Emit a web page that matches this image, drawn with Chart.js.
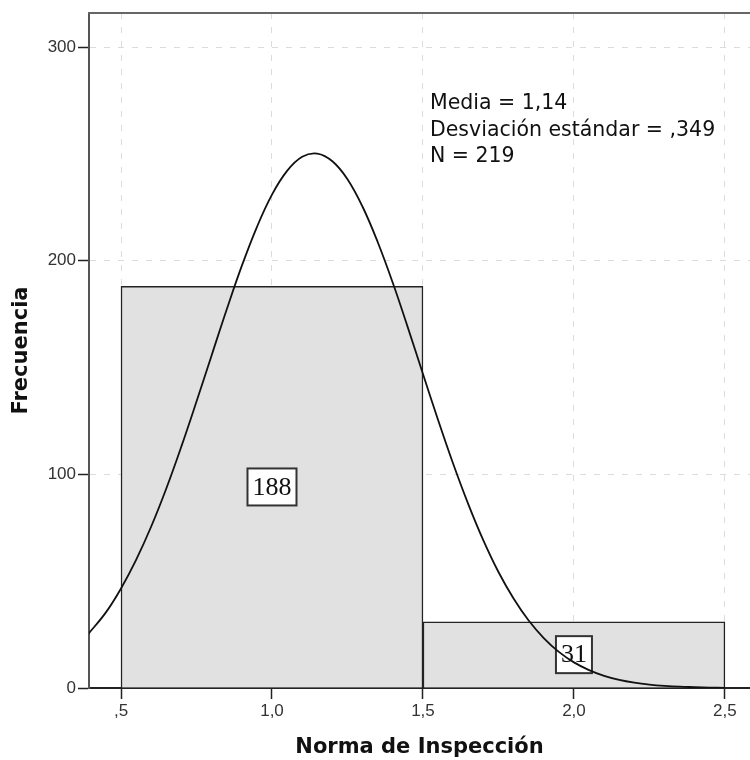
<!DOCTYPE html>
<html>
<head>
<meta charset="utf-8">
<script src="https://cdn.jsdelivr.net/npm/chart.js@4"></script>
<style>
  body { margin: 0; background: #fff; }
  canvas { display: block; background: #fff; }
</style>
</head>
<body>
<canvas id="histChart" width="750" height="760"></canvas>
<script>
// histogram bins (centre of each bin) and counts
const binCenters = [1.0, 2.0];
const binCounts = [188, 31];

// normal curve
const curveX = [0.39, 0.45, 0.5, 0.55, 0.6, 0.65, 0.7, 0.75, 0.8, 0.85, 0.9, 0.95, 1.0, 1.05, 1.1, 1.15, 1.2, 1.25,
  1.3, 1.35, 1.4, 1.45, 1.5, 1.55, 1.6, 1.65, 1.7, 1.75, 1.8, 1.85, 1.9, 1.95, 2.0, 2.05, 2.1, 2.15, 2.2, 2.25,
  2.3, 2.35, 2.4, 2.45, 2.5];
const curveY = [25, 35.4, 46.6, 60, 75.6, 93.4, 113.1, 134.1, 155.7, 177.2, 197.6, 215.8, 231, 242.1, 248.7, 250.2, 246.6, 238.2,
  225.3, 208.8, 189.7, 168.7, 147, 125.5, 105, 86.1, 69.1, 54.3, 41.9, 31.6, 23.4, 16.9, 12, 8.4, 5.7, 3.8, 2.5, 1.6,
  1, 0.6, 0.4, 0.2, 0.1];

const xTickLabels = { 0.5: ',5', 1: '1,0', 1.5: '1,5', 2: '2,0', 2.5: '2,5' };
const statLines = ['Media = 1,14', 'Desviación estándar = ,349', 'N = 219'];

const xMin = 0.394, xMax = 2.583;
const yMax = 316;

const ctx = document.getElementById('histChart').getContext('2d');
Chart.defaults.font.family = '"Liberation Sans", Arial, sans-serif';
Chart.defaults.color = '#333';

const gridStyle = { color: '#dcdcdc', lineWidth: 1, tickColor: '#222', tickWidth: 1.5, tickLength: 11, offset: false };

// boxes with the count in the middle of each bar
const barLabels = {
  id: 'barLabels',
  afterDatasetDraw(chart, args) {
    if (args.meta.type !== 'bar') return;
    const c = chart.ctx;
    c.save();
    c.font = '26px "Liberation Serif", "DejaVu Serif", serif';
    c.textAlign = 'center';
    c.textBaseline = 'middle';
    args.meta.data.forEach((bar, i) => {
      const txt = String(binCounts[i]);
      const w = c.measureText(txt).width + 10;
      const h = 37;
      const cy = (bar.y + bar.base) / 2;
      c.fillStyle = '#fff';
      c.fillRect(bar.x - w / 2, cy - h / 2, w, h);
      c.strokeStyle = '#333';
      c.lineWidth = 2;
      c.strokeRect(bar.x - w / 2, cy - h / 2, w, h);
      c.fillStyle = '#111';
      c.fillText(txt, bar.x, cy + 1);
    });
    c.restore();
  }
};

// top frame line + stats text
const frame = {
  id: 'frame',
  afterDraw(chart) {
    const c = chart.ctx;
    const a = chart.chartArea;
    c.save();
    c.strokeStyle = '#666';
    c.lineWidth = 2;
    c.beginPath();
    c.moveTo(a.left - 1, a.top);
    c.lineTo(a.right, a.top);
    c.stroke();

    c.font = '20.5px "DejaVu Sans", sans-serif';
    c.fillStyle = '#111';
    c.textBaseline = 'alphabetic';
    const tx = chart.scales.x.getPixelForValue(1.5) + 7;
    statLines.forEach((s, i) => c.fillText(s, tx, 109 + i * 26.5));
    c.restore();
  }
};

new Chart(ctx, {
  type: 'bar',
  data: {
    datasets: [
      {
        type: 'line',
        label: 'Normal',
        data: curveX.map((x, i) => ({ x: x, y: curveY[i] })),
        borderColor: '#111',
        borderWidth: 1.8,
        pointRadius: 0,
        fill: false,
        tension: 0.4,
        order: 0
      },
      {
        type: 'bar',
        label: 'Frecuencia',
        data: binCenters.map((x, i) => ({ x: x, y: binCounts[i] })),
        backgroundColor: '#e1e1e1',
        borderColor: '#222',
        borderWidth: 1.5,
        barThickness: 'flex',
        barPercentage: 1,
        categoryPercentage: 1,
        order: 1
      }
    ]
  },
  options: {
    responsive: false,
    animation: false,
    devicePixelRatio: 1,
    layout: { padding: { top: 13, right: 0, bottom: 0, left: 0 } },
    plugins: { legend: { display: false }, tooltip: { enabled: false } },
    scales: {
      x: {
        type: 'linear',
        position: 'bottom',
        min: xMin,
        max: xMax,
        offset: false,
        grid: gridStyle,
        border: { color: '#222', width: 2, dash: [6, 8] },
        ticks: {
          stepSize: 0.5,
          includeBounds: false,
          padding: 2,
          maxRotation: 0,
          font: { size: 17 },
          callback: v => xTickLabels[v] ?? ''
        },
        title: {
          display: true,
          text: 'Norma de Inspección',
          color: '#111',
          font: { family: '"DejaVu Sans", sans-serif', size: 21, weight: 'bold' },
          padding: { top: 0, bottom: 0 }
        },
        afterFit(scale) { scale.height = 72; }
      },
      y: {
        type: 'linear',
        position: 'left',
        min: 0,
        max: yMax,
        grid: gridStyle,
        border: { color: '#555', width: 2, dash: [6, 8] },
        ticks: {
          stepSize: 100,
          includeBounds: false,
          padding: 2,
          font: { size: 17 }
        },
        title: {
          display: true,
          text: 'Frecuencia',
          color: '#111',
          font: { family: '"DejaVu Sans", sans-serif', size: 21, weight: 'bold' },
          padding: { top: 9, bottom: 0 }
        },
        afterFit(scale) { scale.width = 89; }
      }
    }
  },
  plugins: [barLabels, frame]
});
</script>
</body>
</html>
